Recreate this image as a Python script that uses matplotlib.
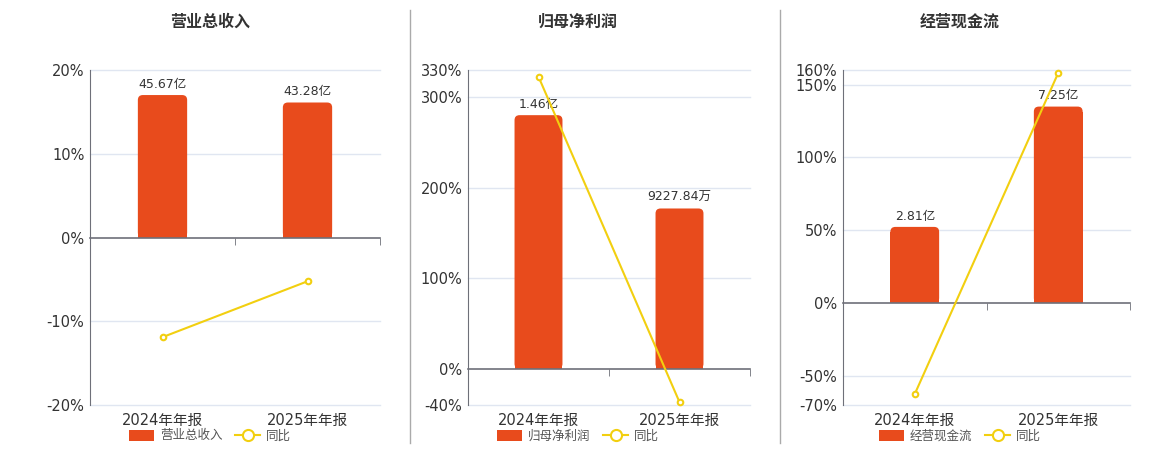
import matplotlib.pyplot as plt
from matplotlib.patches import FancyBboxPatch
import numpy as np

plt.rcParams["font.family"] = ["DejaVu Sans", "Noto Sans CJK SC"]

# Data
periods = ["2024年年报", "2025年年报"]
titles = ["营业总收入", "归母净利润", "经营现金流"]
bar_values = [[45.67, 43.28], [1.46, 0.922784], [2.81, 7.25]]  # 亿
bar_labels = [["45.67亿", "43.28亿"], ["1.46亿", "9227.84万"], ["2.81亿", "7.25亿"]]
yoy_values = [[-11.9, -5.23], [322.6, -36.8], [-62.5, 158.0]]  # %
yoy_ticks = [[-20, -10, 0, 10, 20], [-40, 0, 100, 200, 300, 330], [-70, -50, 0, 50, 100, 150, 160]]

BAR_COLOR = "#E84B1C"
LINE_COLOR = "#F2CF10"
AXIS_COLOR = "#6E7079"
GRID_COLOR = "#E0E6F1"
TEXT_COLOR = "#333333"

# layout (pixels) and scale of the hidden bar axis
W, H = 1160, 450
AX_BOTTOM, AX_TOP = 405, 70
axes_px = [(90, 380), (468, 750), (843, 1130)]
centers_px = [210, 578, 960]
bar_tops = [53.7, 1.72, 8.6]
BAR_W = 0.34
RADIUS_PX = 5

fig = plt.figure(figsize=(W / 100, H / 100), dpi=100)
fig.patch.set_facecolor("white")

for i in range(3):
    x0, x1 = axes_px[i]
    ax_h = AX_BOTTOM - AX_TOP
    ax = fig.add_axes([x0 / W, 1 - AX_BOTTOM / H, (x1 - x0) / W, ax_h / H])
    lo, hi = yoy_ticks[i][0], yoy_ticks[i][-1]

    # bar axis (hidden scale), zero aligned with 0%
    bx = ax.twinx()
    bx.xaxis.set_visible(True)
    ax.set_zorder(bx.get_zorder() + 1)
    ax.patch.set_visible(False)
    top = bar_tops[i]
    ylo = top * lo / hi
    bx.set_ylim(ylo, top)
    bx.set_xlim(-0.5, 1.5)
    x = np.arange(len(periods))

    # rounded top corners: radius in data units
    rx = RADIUS_PX * 2 / (x1 - x0)
    ry = RADIUS_PX * (top - ylo) / ax_h
    vals = np.array(bar_values[i])
    bx.bar(x, vals - ry, width=BAR_W, color=BAR_COLOR, zorder=3)
    for xi, v in zip(x, vals):
        bx.add_patch(FancyBboxPatch((xi - BAR_W / 2, 0), BAR_W, v,
                                    boxstyle=f"round,pad=0,rounding_size={rx}",
                                    mutation_aspect=ry / rx, fc=BAR_COLOR,
                                    ec="none", zorder=3))
    for xi, v, lab in zip(x, vals, bar_labels[i]):
        bx.annotate(lab, (xi, v), xytext=(0, 3), textcoords="offset points",
                    ha="center", va="bottom", fontsize=9, color=TEXT_COLOR)
    bx.set_yticks([])
    for s in ["top", "right", "left"]:
        bx.spines[s].set_visible(False)
    bx.spines["bottom"].set_position(("data", 0))
    bx.spines["bottom"].set_color(AXIS_COLOR)
    bx.spines["bottom"].set_linewidth(1.2)
    bx.spines["bottom"].set_zorder(4)
    # category boundary ticks on the zero line (minor ticks; major are shared)
    ax.set_xticks([0.5, 1.5], minor=True)
    bx.tick_params(axis="x", which="major", length=0, labelbottom=False)
    bx.tick_params(axis="x", which="minor", length=5, color=AXIS_COLOR,
                   direction="out")
    ax.tick_params(axis="x", which="minor", length=0)
    for t in yoy_ticks[i]:
        if t != 0:
            bx.axhline(top * t / hi, color=GRID_COLOR, lw=1, zorder=0, clip_on=False)

    # yoy line on the visible percent axis
    ax.plot(x, yoy_values[i], color=LINE_COLOR, lw=1.5, marker="o", ms=4,
            mfc="white", mec=LINE_COLOR, mew=1.5, zorder=5, clip_on=False)
    ax.set_ylim(lo, hi)
    ax.set_xlim(-0.5, 1.5)
    ax.set_yticks(yoy_ticks[i])
    ax.set_yticklabels([f"{t}%" for t in yoy_ticks[i]])
    ax.set_xticks(x)
    ax.set_xticklabels(periods)
    ax.tick_params(axis="x", which="major", length=0, pad=6, labelsize=10.5,
                   labelcolor=TEXT_COLOR)
    ax.tick_params(axis="y", length=0, pad=4, labelsize=10.5, labelcolor=TEXT_COLOR)
    for s in ["top", "right", "bottom"]:
        ax.spines[s].set_visible(False)
    ax.spines["left"].set_color(AXIS_COLOR)

    fig.text(centers_px[i] / W, 1 - 22 / H, titles[i], ha="center", va="center",
             fontsize=11.5, fontweight="bold", color=TEXT_COLOR)

    h_line, = ax.plot([], [], color=LINE_COLOR, lw=1.5, marker="o", ms=8,
                      mfc="white", mec=LINE_COLOR, mew=1.5)
    fig.legend([plt.Rectangle((0, 0), 1, 1, fc=BAR_COLOR), h_line], [titles[i], "同比"],
               loc="center", bbox_to_anchor=(centers_px[i] / W, 1 - 436 / H), ncol=2,
               frameon=False, fontsize=9, handlelength=2.0, handleheight=1.0,
               columnspacing=1.0, handletextpad=0.5, labelcolor="#555555")

# separators between panels
for xp in [410, 780]:
    fig.add_artist(plt.Line2D([xp / W, xp / W], [1 - 443 / H, 1 - 10 / H],
                              color="#AAAAAA", lw=1))

plt.savefig("out.png", dpi=100, facecolor="white")
